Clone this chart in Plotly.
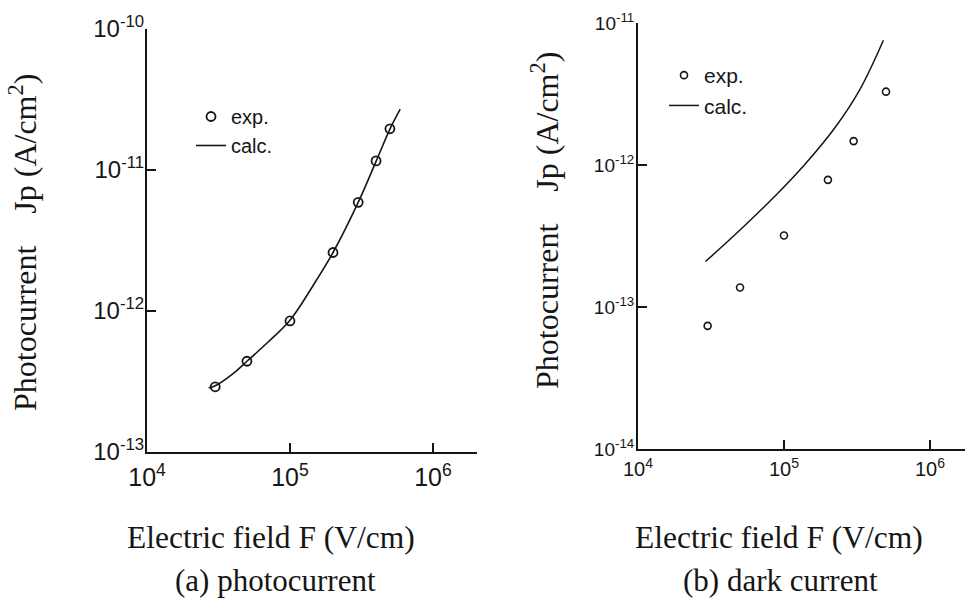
import plotly.graph_objects as go

# (a) photocurrent: measured points and calculated curve
field_a_exp = [3e4, 5e4, 1e5, 2e5, 3e5, 4e5, 5e5]
jp_a_exp = [2.9e-13, 4.4e-13, 8.5e-13, 2.6e-12, 5.9e-12, 1.16e-11, 1.96e-11]
field_a_calc = [2.7e4, 3e4, 4e4, 5e4, 7e4, 1e5, 1.5e5, 2e5, 3e5, 4e5, 5e5, 5.9e5]
jp_a_calc = [2.85e-13, 2.95e-13, 3.6e-13, 4.4e-13, 6.0e-13, 8.6e-13,
             1.6e-12, 2.6e-12, 5.9e-12, 1.15e-11, 1.95e-11, 2.7e-11]

# (b) dark current: measured points and calculated curve
field_b_exp = [3e4, 5e4, 1e5, 2e5, 3e5, 5e5]
jp_b_exp = [7.4e-14, 1.38e-13, 3.2e-13, 7.9e-13, 1.48e-12, 3.3e-12]
field_b_calc = [2.9e4, 5e4, 9e4, 1.35e5, 2.2e5, 3.3e5, 4.8e5]
jp_b_calc = [2.1e-13, 3.5e-13, 6.3e-13, 9.8e-13, 1.8e-12, 3.4e-12, 7.6e-12]

# tick positions and labels
x_tickvals = [1e4, 1e5, 1e6]
x_ticktext = ["10<sup>4</sup>", "10<sup>5</sup>", "10<sup>6</sup>"]
ya_tickvals = [1e-13, 1e-12, 1e-11, 1e-10]
ya_ticktext = ["10<sup>-13</sup>", "10<sup>-12</sup>", "10<sup>-11</sup>", "10<sup>-10</sup>"]
yb_tickvals = [1e-14, 1e-13, 1e-12, 1e-11]
yb_ticktext = ["10<sup>-14</sup>", "10<sup>-13</sup>", "10<sup>-12</sup>", "10<sup>-11</sup>"]

W, H = 965, 601
INK = "#161616"
SERIF = "Liberation Serif, Times New Roman, serif"
NARROW = "Liberation Sans Narrow, Arial Narrow, Liberation Sans, sans-serif"
SANS = "Liberation Sans, Arial, sans-serif"


def px(x):
    return x / W


def py(y):
    return 1 - y / H


fig = go.Figure()

fig.add_trace(go.Scatter(
    x=field_a_exp, y=jp_a_exp, mode="markers", name="exp.",
    marker=dict(symbol="circle-open", size=9, color=INK, line=dict(width=1.8, color=INK)),
    xaxis="x", yaxis="y", legend="legend"))
fig.add_trace(go.Scatter(
    x=field_a_calc, y=jp_a_calc, mode="lines", name="calc.",
    line=dict(color=INK, width=1.6, shape="spline", smoothing=1.0),
    xaxis="x", yaxis="y", legend="legend"))

fig.add_trace(go.Scatter(
    x=field_b_exp, y=jp_b_exp, mode="markers", name="exp.",
    marker=dict(symbol="circle-open", size=7, color=INK, line=dict(width=1.6, color=INK)),
    xaxis="x2", yaxis="y2", legend="legend2"))
fig.add_trace(go.Scatter(
    x=field_b_calc, y=jp_b_calc, mode="lines", name="calc.",
    line=dict(color=INK, width=1.5, shape="spline", smoothing=1.0),
    xaxis="x2", yaxis="y2", legend="legend2"))

axis_common = dict(
    type="log", showgrid=False, zeroline=False, showline=True, automargin=False,
    linecolor=INK, linewidth=2, ticks="inside", ticklen=9, tickwidth=2,
    tickcolor=INK, mirror=False,
)

fig.update_layout(
    width=W, height=H,
    margin=dict(l=0, r=0, t=0, b=0, autoexpand=False),
    paper_bgcolor="white", plot_bgcolor="white",
    xaxis=dict(axis_common, domain=[px(147), px(477)], range=[4, 6.308],
               tickvals=x_tickvals, ticktext=x_ticktext, anchor="y",
               tickfont=dict(family=NARROW, size=25, color=INK), ticklabelstandoff=2),
    yaxis=dict(axis_common, domain=[py(452), py(29)], range=[-13, -10],
               tickvals=ya_tickvals, ticktext=ya_ticktext, anchor="x",
               tickfont=dict(family=NARROW, size=24, color=INK), ticklabelstandoff=-4),
    xaxis2=dict(axis_common, domain=[px(638), 1.0], range=[4, 6.24],
                tickvals=x_tickvals, ticktext=x_ticktext, anchor="y2",
                tickfont=dict(family=NARROW, size=20, color=INK), ticklabelstandoff=1),
    yaxis2=dict(axis_common, domain=[py(449.3), py(23.3)], range=[-14, -11],
                tickvals=yb_tickvals, ticktext=yb_ticktext, anchor="x2",
                tickfont=dict(family=NARROW, size=19, color=INK), ticklabelstandoff=-2),
    legend=dict(x=px(191), y=py(97), xanchor="left", yanchor="top",
                bgcolor="rgba(0,0,0,0)", borderwidth=0,
                font=dict(family=SANS, size=20, color=INK), tracegroupgap=0),
    legend2=dict(x=px(664), y=py(55), xanchor="left", yanchor="top",
                 bgcolor="rgba(0,0,0,0)", borderwidth=0,
                 font=dict(family=SANS, size=21, color=INK), tracegroupgap=0),
    showlegend=True,
)

nb = "\u00a0"
ytitle = f"Photocurrent{nb * 4}Jp (A/cm<sup>2</sup>)"
annotations = [
    dict(text="Electric field F (V/cm)", x=px(270.5), y=py(537), size=31.5),
    dict(text="Electric field F (V/cm)", x=px(779), y=py(537), size=31.5),
    dict(text="(a) photocurrent", x=px(275), y=py(580), size=31),
    dict(text="(b) dark current", x=px(780), y=py(580), size=31),
    dict(text=ytitle, x=px(23), y=py(243), size=32, textangle=-90),
    dict(text=ytitle, x=px(545), y=py(221), size=32, textangle=-90),
]
for a in annotations:
    size = a.pop("size")
    fig.add_annotation(xref="paper", yref="paper", showarrow=False,
                       xanchor="center", yanchor="middle",
                       font=dict(family=SERIF, size=size, color=INK), **a)

fig.write_html("out.html")
